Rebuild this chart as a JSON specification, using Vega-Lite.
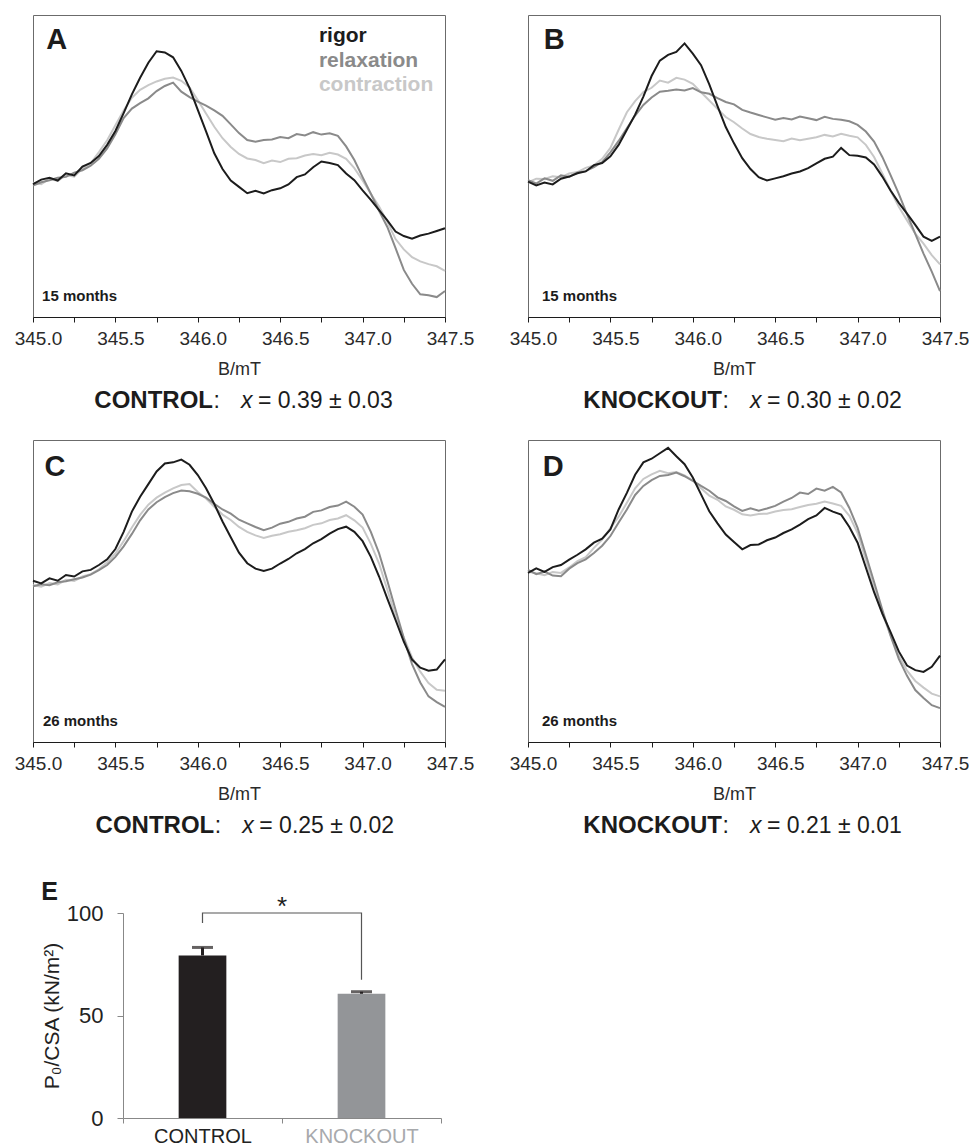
{
  "$schema": "https://vega.github.io/schema/vega-lite/v6.json",
  "padding": {"left": 13, "top": 14, "right": 0, "bottom": 0},
  "config": {"font": "Liberation Sans", "view": {"stroke": null}},
  "resolve": {"scale": {"color": "independent"}},
  "datasets": {
    "A": [
      {"B":345.00,"rigor":44.0,"relaxation":43.5,"contraction":44.5},
      {"B":345.05,"rigor":45.5,"relaxation":44.6,"contraction":44.0},
      {"B":345.10,"rigor":46.1,"relaxation":45.3,"contraction":45.8},
      {"B":345.15,"rigor":45.2,"relaxation":46.1,"contraction":45.1},
      {"B":345.20,"rigor":47.6,"relaxation":46.4,"contraction":47.0},
      {"B":345.25,"rigor":46.9,"relaxation":47.8,"contraction":46.5},
      {"B":345.30,"rigor":49.8,"relaxation":48.6,"contraction":49.2},
      {"B":345.35,"rigor":51.0,"relaxation":50.1,"contraction":50.9},
      {"B":345.40,"rigor":53.3,"relaxation":52.4,"contraction":54.6},
      {"B":345.45,"rigor":57.0,"relaxation":55.8,"contraction":58.5},
      {"B":345.50,"rigor":61.6,"relaxation":60.5,"contraction":63.5},
      {"B":345.55,"rigor":67.5,"relaxation":65.9,"contraction":68.4},
      {"B":345.60,"rigor":73.7,"relaxation":69.0,"contraction":72.6},
      {"B":345.65,"rigor":79.2,"relaxation":70.8,"contraction":75.2},
      {"B":345.70,"rigor":84.2,"relaxation":72.4,"contraction":76.8},
      {"B":345.75,"rigor":88.0,"relaxation":74.8,"contraction":78.0},
      {"B":345.80,"rigor":87.6,"relaxation":76.5,"contraction":78.9},
      {"B":345.85,"rigor":86.0,"relaxation":77.6,"contraction":79.3},
      {"B":345.90,"rigor":81.5,"relaxation":74.6,"contraction":78.2},
      {"B":345.95,"rigor":75.8,"relaxation":72.8,"contraction":76.0},
      {"B":346.00,"rigor":68.6,"relaxation":71.3,"contraction":71.8},
      {"B":346.05,"rigor":61.5,"relaxation":70.0,"contraction":67.4},
      {"B":346.10,"rigor":54.2,"relaxation":68.4,"contraction":63.0},
      {"B":346.15,"rigor":49.0,"relaxation":66.6,"contraction":59.2},
      {"B":346.20,"rigor":45.2,"relaxation":63.8,"contraction":56.3},
      {"B":346.25,"rigor":43.1,"relaxation":60.9,"contraction":54.0},
      {"B":346.30,"rigor":41.0,"relaxation":58.6,"contraction":52.5},
      {"B":346.35,"rigor":41.8,"relaxation":58.0,"contraction":52.0},
      {"B":346.40,"rigor":40.9,"relaxation":58.6,"contraction":50.9},
      {"B":346.45,"rigor":42.0,"relaxation":58.8,"contraction":51.8},
      {"B":346.50,"rigor":42.6,"relaxation":59.6,"contraction":51.3},
      {"B":346.55,"rigor":43.9,"relaxation":59.2,"contraction":52.4},
      {"B":346.60,"rigor":46.3,"relaxation":60.6,"contraction":52.6},
      {"B":346.65,"rigor":47.2,"relaxation":60.1,"contraction":53.5},
      {"B":346.70,"rigor":49.6,"relaxation":61.2,"contraction":54.0},
      {"B":346.75,"rigor":51.5,"relaxation":60.4,"contraction":53.6},
      {"B":346.80,"rigor":51.0,"relaxation":60.8,"contraction":54.4},
      {"B":346.85,"rigor":50.3,"relaxation":60.0,"contraction":53.8},
      {"B":346.90,"rigor":47.5,"relaxation":56.5,"contraction":52.4},
      {"B":346.95,"rigor":45.3,"relaxation":52.0,"contraction":49.3},
      {"B":347.00,"rigor":41.9,"relaxation":46.3,"contraction":45.2},
      {"B":347.05,"rigor":38.8,"relaxation":40.8,"contraction":40.8},
      {"B":347.10,"rigor":35.4,"relaxation":35.2,"contraction":36.6},
      {"B":347.15,"rigor":32.0,"relaxation":29.8,"contraction":31.5},
      {"B":347.20,"rigor":28.3,"relaxation":22.8,"contraction":25.8},
      {"B":347.25,"rigor":26.8,"relaxation":15.6,"contraction":22.4},
      {"B":347.30,"rigor":25.9,"relaxation":11.0,"contraction":19.8},
      {"B":347.35,"rigor":27.0,"relaxation":7.5,"contraction":18.4},
      {"B":347.40,"rigor":27.6,"relaxation":7.2,"contraction":17.5},
      {"B":347.45,"rigor":28.5,"relaxation":6.6,"contraction":16.8},
      {"B":347.50,"rigor":29.4,"relaxation":8.6,"contraction":15.3}
    ],
    "Bp": [
      {"B":345.00,"rigor":44.8,"relaxation":45.3,"contraction":44.6},
      {"B":345.05,"rigor":43.6,"relaxation":44.2,"contraction":45.8},
      {"B":345.10,"rigor":44.5,"relaxation":45.9,"contraction":45.7},
      {"B":345.15,"rigor":43.9,"relaxation":45.1,"contraction":46.6},
      {"B":345.20,"rigor":45.8,"relaxation":46.9,"contraction":46.3},
      {"B":345.25,"rigor":46.5,"relaxation":46.4,"contraction":47.5},
      {"B":345.30,"rigor":47.6,"relaxation":47.9,"contraction":48.0},
      {"B":345.35,"rigor":48.2,"relaxation":48.3,"contraction":49.4},
      {"B":345.40,"rigor":50.3,"relaxation":49.6,"contraction":50.2},
      {"B":345.45,"rigor":51.0,"relaxation":51.3,"contraction":52.4},
      {"B":345.50,"rigor":53.2,"relaxation":54.5,"contraction":56.0},
      {"B":345.55,"rigor":57.0,"relaxation":58.3,"contraction":62.0},
      {"B":345.60,"rigor":62.0,"relaxation":62.5,"contraction":67.8},
      {"B":345.65,"rigor":67.0,"relaxation":66.7,"contraction":71.5},
      {"B":345.70,"rigor":73.0,"relaxation":70.2,"contraction":74.5},
      {"B":345.75,"rigor":79.8,"relaxation":72.7,"contraction":75.9},
      {"B":345.80,"rigor":84.9,"relaxation":74.6,"contraction":78.3},
      {"B":345.85,"rigor":86.8,"relaxation":74.9,"contraction":77.6},
      {"B":345.90,"rigor":87.8,"relaxation":75.3,"contraction":79.2},
      {"B":345.95,"rigor":90.6,"relaxation":75.0,"contraction":78.6},
      {"B":346.00,"rigor":87.2,"relaxation":75.8,"contraction":77.2},
      {"B":346.05,"rigor":83.4,"relaxation":74.4,"contraction":74.4},
      {"B":346.10,"rigor":77.0,"relaxation":73.9,"contraction":71.7},
      {"B":346.15,"rigor":69.8,"relaxation":72.5,"contraction":68.9},
      {"B":346.20,"rigor":62.9,"relaxation":71.2,"contraction":66.2},
      {"B":346.25,"rigor":57.5,"relaxation":70.4,"contraction":64.5},
      {"B":346.30,"rigor":52.6,"relaxation":68.6,"contraction":62.4},
      {"B":346.35,"rigor":49.0,"relaxation":67.7,"contraction":60.6},
      {"B":346.40,"rigor":46.3,"relaxation":66.9,"contraction":59.6},
      {"B":346.45,"rigor":45.2,"relaxation":66.1,"contraction":59.0},
      {"B":346.50,"rigor":45.9,"relaxation":65.3,"contraction":58.6},
      {"B":346.55,"rigor":46.6,"relaxation":65.9,"contraction":58.2},
      {"B":346.60,"rigor":47.5,"relaxation":65.4,"contraction":59.1},
      {"B":346.65,"rigor":48.2,"relaxation":66.4,"contraction":58.5},
      {"B":346.70,"rigor":49.3,"relaxation":65.8,"contraction":59.0},
      {"B":346.75,"rigor":50.9,"relaxation":65.2,"contraction":59.5},
      {"B":346.80,"rigor":52.4,"relaxation":66.3,"contraction":60.3},
      {"B":346.85,"rigor":53.1,"relaxation":65.6,"contraction":59.8},
      {"B":346.90,"rigor":56.0,"relaxation":65.3,"contraction":60.7},
      {"B":346.95,"rigor":53.6,"relaxation":64.8,"contraction":60.0},
      {"B":347.00,"rigor":53.4,"relaxation":63.6,"contraction":59.5},
      {"B":347.05,"rigor":52.8,"relaxation":61.4,"contraction":57.0},
      {"B":347.10,"rigor":50.5,"relaxation":58.1,"contraction":53.0},
      {"B":347.15,"rigor":46.5,"relaxation":53.0,"contraction":47.5},
      {"B":347.20,"rigor":41.9,"relaxation":47.0,"contraction":41.9},
      {"B":347.25,"rigor":37.8,"relaxation":40.8,"contraction":36.5},
      {"B":347.30,"rigor":34.2,"relaxation":34.0,"contraction":32.0},
      {"B":347.35,"rigor":30.5,"relaxation":27.5,"contraction":27.6},
      {"B":347.40,"rigor":26.6,"relaxation":21.0,"contraction":24.3},
      {"B":347.45,"rigor":25.2,"relaxation":15.0,"contraction":20.5},
      {"B":347.50,"rigor":26.6,"relaxation":8.6,"contraction":17.4}
    ],
    "C": [
      {"B":345.00,"rigor":53.4,"relaxation":51.6,"contraction":51.9},
      {"B":345.05,"rigor":52.5,"relaxation":52.2,"contraction":51.4},
      {"B":345.10,"rigor":54.2,"relaxation":51.9,"contraction":52.6},
      {"B":345.15,"rigor":53.4,"relaxation":52.9,"contraction":52.2},
      {"B":345.20,"rigor":55.3,"relaxation":53.2,"contraction":53.7},
      {"B":345.25,"rigor":54.8,"relaxation":53.9,"contraction":53.3},
      {"B":345.30,"rigor":56.5,"relaxation":54.5,"contraction":54.8},
      {"B":345.35,"rigor":57.0,"relaxation":55.4,"contraction":55.6},
      {"B":345.40,"rigor":58.6,"relaxation":56.9,"contraction":57.2},
      {"B":345.45,"rigor":60.5,"relaxation":58.6,"contraction":59.5},
      {"B":345.50,"rigor":63.9,"relaxation":61.3,"contraction":62.4},
      {"B":345.55,"rigor":69.6,"relaxation":64.8,"contraction":66.5},
      {"B":345.60,"rigor":76.3,"relaxation":68.9,"contraction":71.0},
      {"B":345.65,"rigor":81.2,"relaxation":73.4,"contraction":75.2},
      {"B":345.70,"rigor":85.4,"relaxation":77.0,"contraction":78.6},
      {"B":345.75,"rigor":89.6,"relaxation":79.4,"contraction":80.9},
      {"B":345.80,"rigor":92.2,"relaxation":81.1,"contraction":82.6},
      {"B":345.85,"rigor":92.6,"relaxation":82.4,"contraction":84.0},
      {"B":345.90,"rigor":93.5,"relaxation":83.3,"contraction":85.1},
      {"B":345.95,"rigor":91.8,"relaxation":83.0,"contraction":85.4},
      {"B":346.00,"rigor":88.4,"relaxation":82.2,"contraction":82.8},
      {"B":346.05,"rigor":84.0,"relaxation":80.9,"contraction":80.6},
      {"B":346.10,"rigor":78.8,"relaxation":78.9,"contraction":77.9},
      {"B":346.15,"rigor":73.0,"relaxation":77.0,"contraction":75.3},
      {"B":346.20,"rigor":67.8,"relaxation":75.6,"contraction":73.5},
      {"B":346.25,"rigor":62.7,"relaxation":73.6,"contraction":71.2},
      {"B":346.30,"rigor":59.2,"relaxation":72.4,"contraction":69.6},
      {"B":346.35,"rigor":57.4,"relaxation":71.2,"contraction":68.4},
      {"B":346.40,"rigor":56.6,"relaxation":70.1,"contraction":67.6},
      {"B":346.45,"rigor":57.4,"relaxation":71.0,"contraction":68.3},
      {"B":346.50,"rigor":59.1,"relaxation":72.3,"contraction":68.8},
      {"B":346.55,"rigor":60.6,"relaxation":72.9,"contraction":69.6},
      {"B":346.60,"rigor":62.5,"relaxation":74.0,"contraction":70.1},
      {"B":346.65,"rigor":63.9,"relaxation":74.6,"contraction":70.8},
      {"B":346.70,"rigor":65.8,"relaxation":76.2,"contraction":71.9},
      {"B":346.75,"rigor":67.2,"relaxation":76.7,"contraction":72.4},
      {"B":346.80,"rigor":69.0,"relaxation":77.8,"contraction":73.5},
      {"B":346.85,"rigor":70.5,"relaxation":78.3,"contraction":74.0},
      {"B":346.90,"rigor":71.3,"relaxation":79.6,"contraction":75.1},
      {"B":346.95,"rigor":69.6,"relaxation":77.9,"contraction":73.4},
      {"B":347.00,"rigor":66.5,"relaxation":75.3,"contraction":71.0},
      {"B":347.05,"rigor":61.3,"relaxation":69.6,"contraction":65.6},
      {"B":347.10,"rigor":54.8,"relaxation":62.5,"contraction":59.1},
      {"B":347.15,"rigor":47.5,"relaxation":53.4,"contraction":50.4},
      {"B":347.20,"rigor":40.4,"relaxation":43.8,"contraction":41.6},
      {"B":347.25,"rigor":33.2,"relaxation":34.4,"contraction":34.6},
      {"B":347.30,"rigor":27.3,"relaxation":25.8,"contraction":28.0},
      {"B":347.35,"rigor":24.6,"relaxation":19.7,"contraction":23.3},
      {"B":347.40,"rigor":23.6,"relaxation":15.1,"contraction":19.5},
      {"B":347.45,"rigor":24.0,"relaxation":13.2,"contraction":17.3},
      {"B":347.50,"rigor":27.4,"relaxation":11.6,"contraction":17.0}
    ],
    "D": [
      {"B":345.00,"rigor":56.0,"relaxation":57.0,"contraction":56.4},
      {"B":345.05,"rigor":57.5,"relaxation":55.6,"contraction":55.9},
      {"B":345.10,"rigor":56.3,"relaxation":56.4,"contraction":55.2},
      {"B":345.15,"rigor":57.9,"relaxation":55.1,"contraction":56.3},
      {"B":345.20,"rigor":58.6,"relaxation":54.9,"contraction":56.0},
      {"B":345.25,"rigor":60.4,"relaxation":57.4,"contraction":57.8},
      {"B":345.30,"rigor":62.0,"relaxation":59.2,"contraction":59.9},
      {"B":345.35,"rigor":63.8,"relaxation":60.5,"contraction":61.2},
      {"B":345.40,"rigor":66.0,"relaxation":62.6,"contraction":64.3},
      {"B":345.45,"rigor":67.3,"relaxation":65.0,"contraction":67.0},
      {"B":345.50,"rigor":70.4,"relaxation":68.2,"contraction":70.8},
      {"B":345.55,"rigor":77.0,"relaxation":72.7,"contraction":74.6},
      {"B":345.60,"rigor":82.5,"relaxation":77.0,"contraction":79.2},
      {"B":345.65,"rigor":88.5,"relaxation":81.8,"contraction":84.0},
      {"B":345.70,"rigor":92.6,"relaxation":84.8,"contraction":87.1},
      {"B":345.75,"rigor":93.8,"relaxation":86.7,"contraction":88.6},
      {"B":345.80,"rigor":95.6,"relaxation":88.1,"contraction":89.8},
      {"B":345.85,"rigor":97.4,"relaxation":88.4,"contraction":89.0},
      {"B":345.90,"rigor":94.6,"relaxation":89.2,"contraction":89.4},
      {"B":345.95,"rigor":92.0,"relaxation":88.0,"contraction":88.3},
      {"B":346.00,"rigor":87.6,"relaxation":86.5,"contraction":86.5},
      {"B":346.05,"rigor":82.0,"relaxation":84.8,"contraction":84.0},
      {"B":346.10,"rigor":76.4,"relaxation":83.2,"contraction":81.6},
      {"B":346.15,"rigor":72.4,"relaxation":81.0,"contraction":80.2},
      {"B":346.20,"rigor":68.7,"relaxation":79.8,"contraction":78.0},
      {"B":346.25,"rigor":66.2,"relaxation":78.0,"contraction":76.9},
      {"B":346.30,"rigor":63.8,"relaxation":76.5,"contraction":75.4},
      {"B":346.35,"rigor":65.2,"relaxation":77.4,"contraction":75.0},
      {"B":346.40,"rigor":65.4,"relaxation":76.6,"contraction":75.5},
      {"B":346.45,"rigor":66.8,"relaxation":77.3,"contraction":75.6},
      {"B":346.50,"rigor":67.7,"relaxation":78.2,"contraction":76.3},
      {"B":346.55,"rigor":69.2,"relaxation":79.6,"contraction":76.8},
      {"B":346.60,"rigor":70.4,"relaxation":80.8,"contraction":77.1},
      {"B":346.65,"rigor":72.0,"relaxation":82.6,"contraction":77.8},
      {"B":346.70,"rigor":73.8,"relaxation":82.1,"contraction":78.5},
      {"B":346.75,"rigor":75.0,"relaxation":83.9,"contraction":78.9},
      {"B":346.80,"rigor":77.5,"relaxation":83.2,"contraction":79.6},
      {"B":346.85,"rigor":76.3,"relaxation":84.5,"contraction":79.0},
      {"B":346.90,"rigor":75.3,"relaxation":82.6,"contraction":78.2},
      {"B":346.95,"rigor":71.2,"relaxation":77.5,"contraction":74.9},
      {"B":347.00,"rigor":66.0,"relaxation":70.9,"contraction":69.2},
      {"B":347.05,"rigor":57.8,"relaxation":62.0,"contraction":60.3},
      {"B":347.10,"rigor":49.6,"relaxation":53.0,"contraction":50.9},
      {"B":347.15,"rigor":42.5,"relaxation":43.8,"contraction":42.6},
      {"B":347.20,"rigor":36.4,"relaxation":35.2,"contraction":35.3},
      {"B":347.25,"rigor":30.0,"relaxation":27.5,"contraction":28.6},
      {"B":347.30,"rigor":25.3,"relaxation":21.9,"contraction":23.6},
      {"B":347.35,"rigor":23.8,"relaxation":17.2,"contraction":20.2},
      {"B":347.40,"rigor":23.2,"relaxation":14.6,"contraction":18.0},
      {"B":347.45,"rigor":24.9,"relaxation":12.2,"contraction":16.0},
      {"B":347.50,"rigor":28.6,"relaxation":11.2,"contraction":15.1}
    ],
    "E": [
      {"group":"CONTROL","value":79.3,"upper":83.2},
      {"group":"KNOCKOUT","value":60.6,"upper":61.6}
    ],
    "bracket": [
      {"group":"CONTROL","level":95.1,"step":1},
      {"group":"CONTROL","level":100,"step":2},
      {"group":"KNOCKOUT","level":100,"step":3},
      {"group":"KNOCKOUT","level":67.5,"step":4}
    ]
  },
  "vconcat": [
    {
      "spacing": 25,
      "vconcat": [
        {
          "spacing": 33,
          "hconcat": [
            {
              "width": 412, "height": 302, "view": {"stroke": "#6b6b6b"},
              "layer": [
                {"data": {"name": "A"},
                 "transform": [{"fold": ["contraction","relaxation","rigor"], "as": ["series","signal"]}],
                 "mark": {"type": "line", "strokeWidth": 2},
                 "encoding": {
                   "x": {"field": "B", "type": "quantitative", "scale": {"domain": [345, 347.5], "nice": false, "zero": false},
                         "axis": {"values": [345,345.25,345.5,345.75,346,346.25,346.5,346.75,347,347.25,347.5], "labelExpr": "(datum.value * 2) % 1 === 0 ? format(datum.value, '.1f') : ''", "title": "B/mT", "grid": false, "tickSize": 5, "tickColor": "#1c1c1c", "domainColor": "#1c1c1c", "labelFontSize": 19, "labelColor": "#2a2a2a", "labelPadding": 7, "labelOffset": 5, "labelFlush": false, "labelOverlap": false, "titleFontSize": 18, "titleFontWeight": "normal", "titleColor": "#2a2a2a", "titlePadding": 12}},
                   "y": {"field": "signal", "type": "quantitative", "scale": {"domain": [0, 100], "nice": false, "zero": false}, "axis": null},
                   "color": {"field": "series", "type": "nominal", "scale": {"domain": ["contraction","relaxation","rigor"], "range": ["#c8c8c8","#8a8a8a","#1c1c1c"]}, "legend": null}
                 }},
                {"data": {"values": [{}]}, "mark": {"type": "text", "text": "A", "fontSize": 29, "fontWeight": "bold", "align": "left", "baseline": "alphabetic", "color": "#1c1c1c"}, "encoding": {"x": {"datum": 345.08, "type": "quantitative"}, "y": {"datum": 88.7, "type": "quantitative"}}},
                {"data": {"values": [{}]}, "mark": {"type": "text", "text": "15 months", "fontSize": 15, "fontWeight": "bold", "align": "left", "baseline": "alphabetic", "color": "#1c1c1c"}, "encoding": {"x": {"datum": 345.055, "type": "quantitative"}, "y": {"datum": 5.3, "type": "quantitative"}}},
                {"data": {"values": [{}]}, "mark": {"type": "text", "text": "rigor", "fontSize": 21, "fontWeight": "bold", "align": "left", "baseline": "alphabetic", "color": "#1c1c1c"}, "encoding": {"x": {"datum": 346.735, "type": "quantitative"}, "y": {"datum": 91.2, "type": "quantitative"}}},
                {"data": {"values": [{}]}, "mark": {"type": "text", "text": "relaxation", "fontSize": 21, "fontWeight": "bold", "align": "left", "baseline": "alphabetic", "color": "#8a8a8a"}, "encoding": {"x": {"datum": 346.735, "type": "quantitative"}, "y": {"datum": 82.9, "type": "quantitative"}}},
                {"data": {"values": [{}]}, "mark": {"type": "text", "text": "contraction", "fontSize": 21, "fontWeight": "bold", "align": "left", "baseline": "alphabetic", "color": "#c8c8c8"}, "encoding": {"x": {"datum": 346.735, "type": "quantitative"}, "y": {"datum": 75.0, "type": "quantitative"}}},
                {"data": {"values": [{}]}, "mark": {"type": "text", "text": "CONTROL", "fontSize": 24, "fontWeight": "bold", "align": "right", "baseline": "alphabetic", "color": "#1c1c1c"}, "encoding": {"x": {"datum": 346.092, "type": "quantitative"}, "y": {"datum": -30.1, "type": "quantitative"}}},
                {"data": {"values": [{}]}, "mark": {"type": "text", "text": ":", "fontSize": 23, "align": "left", "baseline": "alphabetic", "color": "#1c1c1c"}, "encoding": {"x": {"datum": 346.095, "type": "quantitative"}, "y": {"datum": -30.1, "type": "quantitative"}}},
                {"data": {"values": [{}]}, "mark": {"type": "text", "text": "x", "fontSize": 23, "fontStyle": "italic", "align": "left", "baseline": "alphabetic", "color": "#1c1c1c"}, "encoding": {"x": {"datum": 346.262, "type": "quantitative"}, "y": {"datum": -30.1, "type": "quantitative"}}},
                {"data": {"values": [{}]}, "mark": {"type": "text", "text": "= 0.39 ± 0.03", "fontSize": 23, "align": "left", "baseline": "alphabetic", "color": "#1c1c1c"}, "encoding": {"x": {"datum": 346.365, "type": "quantitative"}, "y": {"datum": -30.1, "type": "quantitative"}}}
              ]
            },
            {
              "width": 412, "height": 302, "view": {"stroke": "#6b6b6b"},
              "layer": [
                {"data": {"name": "Bp"},
                 "transform": [{"fold": ["contraction","relaxation","rigor"], "as": ["series","signal"]}],
                 "mark": {"type": "line", "strokeWidth": 2},
                 "encoding": {
                   "x": {"field": "B", "type": "quantitative", "scale": {"domain": [345, 347.5], "nice": false, "zero": false},
                         "axis": {"values": [345,345.25,345.5,345.75,346,346.25,346.5,346.75,347,347.25,347.5], "labelExpr": "(datum.value * 2) % 1 === 0 ? format(datum.value, '.1f') : ''", "title": "B/mT", "grid": false, "tickSize": 5, "tickColor": "#1c1c1c", "domainColor": "#1c1c1c", "labelFontSize": 19, "labelColor": "#2a2a2a", "labelPadding": 7, "labelOffset": 5, "labelFlush": false, "labelOverlap": false, "titleFontSize": 18, "titleFontWeight": "normal", "titleColor": "#2a2a2a", "titlePadding": 12}},
                   "y": {"field": "signal", "type": "quantitative", "scale": {"domain": [0, 100], "nice": false, "zero": false}, "axis": null},
                   "color": {"field": "series", "type": "nominal", "scale": {"domain": ["contraction","relaxation","rigor"], "range": ["#c8c8c8","#8a8a8a","#1c1c1c"]}, "legend": null}
                 }},
                {"data": {"values": [{}]}, "mark": {"type": "text", "text": "B", "fontSize": 29, "fontWeight": "bold", "align": "left", "baseline": "alphabetic", "color": "#1c1c1c"}, "encoding": {"x": {"datum": 345.095, "type": "quantitative"}, "y": {"datum": 88.7, "type": "quantitative"}}},
                {"data": {"values": [{}]}, "mark": {"type": "text", "text": "15 months", "fontSize": 15, "fontWeight": "bold", "align": "left", "baseline": "alphabetic", "color": "#1c1c1c"}, "encoding": {"x": {"datum": 345.085, "type": "quantitative"}, "y": {"datum": 5.3, "type": "quantitative"}}},
                {"data": {"values": [{}]}, "mark": {"type": "text", "text": "KNOCKOUT", "fontSize": 24, "fontWeight": "bold", "align": "right", "baseline": "alphabetic", "color": "#1c1c1c"}, "encoding": {"x": {"datum": 346.177, "type": "quantitative"}, "y": {"datum": -30.1, "type": "quantitative"}}},
                {"data": {"values": [{}]}, "mark": {"type": "text", "text": ":", "fontSize": 23, "align": "left", "baseline": "alphabetic", "color": "#1c1c1c"}, "encoding": {"x": {"datum": 346.18, "type": "quantitative"}, "y": {"datum": -30.1, "type": "quantitative"}}},
                {"data": {"values": [{}]}, "mark": {"type": "text", "text": "x", "fontSize": 23, "fontStyle": "italic", "align": "left", "baseline": "alphabetic", "color": "#1c1c1c"}, "encoding": {"x": {"datum": 346.347, "type": "quantitative"}, "y": {"datum": -30.1, "type": "quantitative"}}},
                {"data": {"values": [{}]}, "mark": {"type": "text", "text": "= 0.30 ± 0.02", "fontSize": 23, "align": "left", "baseline": "alphabetic", "color": "#1c1c1c"}, "encoding": {"x": {"datum": 346.45, "type": "quantitative"}, "y": {"datum": -30.1, "type": "quantitative"}}}
              ]
            }
          ]
        },
        {
          "spacing": 33,
          "hconcat": [
            {
              "width": 412, "height": 302, "view": {"stroke": "#6b6b6b"},
              "layer": [
                {"data": {"name": "C"},
                 "transform": [{"fold": ["contraction","relaxation","rigor"], "as": ["series","signal"]}],
                 "mark": {"type": "line", "strokeWidth": 2},
                 "encoding": {
                   "x": {"field": "B", "type": "quantitative", "scale": {"domain": [345, 347.5], "nice": false, "zero": false},
                         "axis": {"values": [345,345.25,345.5,345.75,346,346.25,346.5,346.75,347,347.25,347.5], "labelExpr": "(datum.value * 2) % 1 === 0 ? format(datum.value, '.1f') : ''", "title": "B/mT", "grid": false, "tickSize": 5, "tickColor": "#1c1c1c", "domainColor": "#1c1c1c", "labelFontSize": 19, "labelColor": "#2a2a2a", "labelPadding": 7, "labelOffset": 5, "labelFlush": false, "labelOverlap": false, "titleFontSize": 18, "titleFontWeight": "normal", "titleColor": "#2a2a2a", "titlePadding": 12}},
                   "y": {"field": "signal", "type": "quantitative", "scale": {"domain": [0, 100], "nice": false, "zero": false}, "axis": null},
                   "color": {"field": "series", "type": "nominal", "scale": {"domain": ["contraction","relaxation","rigor"], "range": ["#c8c8c8","#8a8a8a","#1c1c1c"]}, "legend": null}
                 }},
                {"data": {"values": [{}]}, "mark": {"type": "text", "text": "C", "fontSize": 29, "fontWeight": "bold", "align": "left", "baseline": "alphabetic", "color": "#1c1c1c"}, "encoding": {"x": {"datum": 345.07, "type": "quantitative"}, "y": {"datum": 88.0, "type": "quantitative"}}},
                {"data": {"values": [{}]}, "mark": {"type": "text", "text": "26 months", "fontSize": 15, "fontWeight": "bold", "align": "left", "baseline": "alphabetic", "color": "#1c1c1c"}, "encoding": {"x": {"datum": 345.06, "type": "quantitative"}, "y": {"datum": 5.3, "type": "quantitative"}}},
                {"data": {"values": [{}]}, "mark": {"type": "text", "text": "CONTROL", "fontSize": 24, "fontWeight": "bold", "align": "right", "baseline": "alphabetic", "color": "#1c1c1c"}, "encoding": {"x": {"datum": 346.10, "type": "quantitative"}, "y": {"datum": -30.1, "type": "quantitative"}}},
                {"data": {"values": [{}]}, "mark": {"type": "text", "text": ":", "fontSize": 23, "align": "left", "baseline": "alphabetic", "color": "#1c1c1c"}, "encoding": {"x": {"datum": 346.103, "type": "quantitative"}, "y": {"datum": -30.1, "type": "quantitative"}}},
                {"data": {"values": [{}]}, "mark": {"type": "text", "text": "x", "fontSize": 23, "fontStyle": "italic", "align": "left", "baseline": "alphabetic", "color": "#1c1c1c"}, "encoding": {"x": {"datum": 346.27, "type": "quantitative"}, "y": {"datum": -30.1, "type": "quantitative"}}},
                {"data": {"values": [{}]}, "mark": {"type": "text", "text": "= 0.25 ± 0.02", "fontSize": 23, "align": "left", "baseline": "alphabetic", "color": "#1c1c1c"}, "encoding": {"x": {"datum": 346.373, "type": "quantitative"}, "y": {"datum": -30.1, "type": "quantitative"}}}
              ]
            },
            {
              "width": 412, "height": 302, "view": {"stroke": "#6b6b6b"},
              "layer": [
                {"data": {"name": "D"},
                 "transform": [{"fold": ["contraction","relaxation","rigor"], "as": ["series","signal"]}],
                 "mark": {"type": "line", "strokeWidth": 2},
                 "encoding": {
                   "x": {"field": "B", "type": "quantitative", "scale": {"domain": [345, 347.5], "nice": false, "zero": false},
                         "axis": {"values": [345,345.25,345.5,345.75,346,346.25,346.5,346.75,347,347.25,347.5], "labelExpr": "(datum.value * 2) % 1 === 0 ? format(datum.value, '.1f') : ''", "title": "B/mT", "grid": false, "tickSize": 5, "tickColor": "#1c1c1c", "domainColor": "#1c1c1c", "labelFontSize": 19, "labelColor": "#2a2a2a", "labelPadding": 7, "labelOffset": 5, "labelFlush": false, "labelOverlap": false, "titleFontSize": 18, "titleFontWeight": "normal", "titleColor": "#2a2a2a", "titlePadding": 12}},
                   "y": {"field": "signal", "type": "quantitative", "scale": {"domain": [0, 100], "nice": false, "zero": false}, "axis": null},
                   "color": {"field": "series", "type": "nominal", "scale": {"domain": ["contraction","relaxation","rigor"], "range": ["#c8c8c8","#8a8a8a","#1c1c1c"]}, "legend": null}
                 }},
                {"data": {"values": [{}]}, "mark": {"type": "text", "text": "D", "fontSize": 29, "fontWeight": "bold", "align": "left", "baseline": "alphabetic", "color": "#1c1c1c"}, "encoding": {"x": {"datum": 345.09, "type": "quantitative"}, "y": {"datum": 88.0, "type": "quantitative"}}},
                {"data": {"values": [{}]}, "mark": {"type": "text", "text": "26 months", "fontSize": 15, "fontWeight": "bold", "align": "left", "baseline": "alphabetic", "color": "#1c1c1c"}, "encoding": {"x": {"datum": 345.085, "type": "quantitative"}, "y": {"datum": 5.3, "type": "quantitative"}}},
                {"data": {"values": [{}]}, "mark": {"type": "text", "text": "KNOCKOUT", "fontSize": 24, "fontWeight": "bold", "align": "right", "baseline": "alphabetic", "color": "#1c1c1c"}, "encoding": {"x": {"datum": 346.177, "type": "quantitative"}, "y": {"datum": -30.1, "type": "quantitative"}}},
                {"data": {"values": [{}]}, "mark": {"type": "text", "text": ":", "fontSize": 23, "align": "left", "baseline": "alphabetic", "color": "#1c1c1c"}, "encoding": {"x": {"datum": 346.18, "type": "quantitative"}, "y": {"datum": -30.1, "type": "quantitative"}}},
                {"data": {"values": [{}]}, "mark": {"type": "text", "text": "x", "fontSize": 23, "fontStyle": "italic", "align": "left", "baseline": "alphabetic", "color": "#1c1c1c"}, "encoding": {"x": {"datum": 346.347, "type": "quantitative"}, "y": {"datum": -30.1, "type": "quantitative"}}},
                {"data": {"values": [{}]}, "mark": {"type": "text", "text": "= 0.21 ± 0.01", "fontSize": 23, "align": "left", "baseline": "alphabetic", "color": "#1c1c1c"}, "encoding": {"x": {"datum": 346.45, "type": "quantitative"}, "y": {"datum": -30.1, "type": "quantitative"}}}
              ]
            }
          ]
        }
      ]
    },
    {
      "spacing": 0,
      "hconcat": [
        {"width": 8, "height": 10, "data": {"values": []}, "mark": {"type": "text", "text": ""}},
        {
          "width": 318, "height": 205,
          "title": {"text": "E", "anchor": "start", "frame": "bounds", "fontSize": 25, "fontWeight": "bold", "color": "#1c1c1c", "offset": -11},
          "layer": [
            {"data": {"name": "E"},
             "mark": {"type": "bar", "width": {"band": 0.3}},
             "encoding": {
               "x": {"field": "group", "type": "nominal", "scale": {"paddingInner": 0, "paddingOuter": 0},
                     "axis": {"title": null, "labelAngle": 0, "tickBand": "extent", "tickSize": 5, "tickColor": "#888888", "domainColor": "#888888", "labelFontSize": 20, "labelPadding": 3, "labelColor": {"condition": {"test": "datum.value === 'KNOCKOUT'", "value": "#a7a9ac"}, "value": "#222222"}}},
               "y": {"field": "value", "type": "quantitative", "scale": {"domain": [0, 100], "nice": false},
                     "axis": {"values": [0, 50, 100], "title": "P₀/CSA (kN/m²)", "grid": false, "tickSize": 6, "tickColor": "#888888", "domainColor": "#888888", "labelFontSize": 22, "labelColor": "#222222", "labelPadding": 14, "titleFontSize": 21, "titleFontWeight": "normal", "titleColor": "#222222", "titlePadding": 4}},
               "color": {"field": "group", "type": "nominal", "scale": {"domain": ["CONTROL", "KNOCKOUT"], "range": ["#231f20", "#939598"]}, "legend": null}
             }},
            {"data": {"name": "E"},
             "mark": {"type": "rule", "strokeWidth": 3, "color": "#231f20"},
             "encoding": {"x": {"field": "group", "type": "nominal"}, "y": {"field": "value", "type": "quantitative"}, "y2": {"field": "upper"}}},
            {"data": {"name": "E"},
             "mark": {"type": "tick", "thickness": 3, "size": 21, "color": "#231f20", "orient": "horizontal"},
             "encoding": {"x": {"field": "group", "type": "nominal"}, "y": {"field": "upper", "type": "quantitative"}}},
            {"data": {"name": "bracket"},
             "mark": {"type": "line", "color": "#555555", "strokeWidth": 1.2},
             "encoding": {"x": {"field": "group", "type": "nominal"}, "y": {"field": "level", "type": "quantitative"}, "order": {"field": "step", "type": "quantitative"}}},
            {"data": {"values": [{}]},
             "mark": {"type": "text", "text": "*", "fontSize": 26, "dx": 79.5, "baseline": "middle", "color": "#1c1c1c"},
             "encoding": {"x": {"datum": "CONTROL", "type": "nominal"}, "y": {"datum": 103, "type": "quantitative"}}}
          ]
        }
      ]
    }
  ],
  "spacing": 40
}
